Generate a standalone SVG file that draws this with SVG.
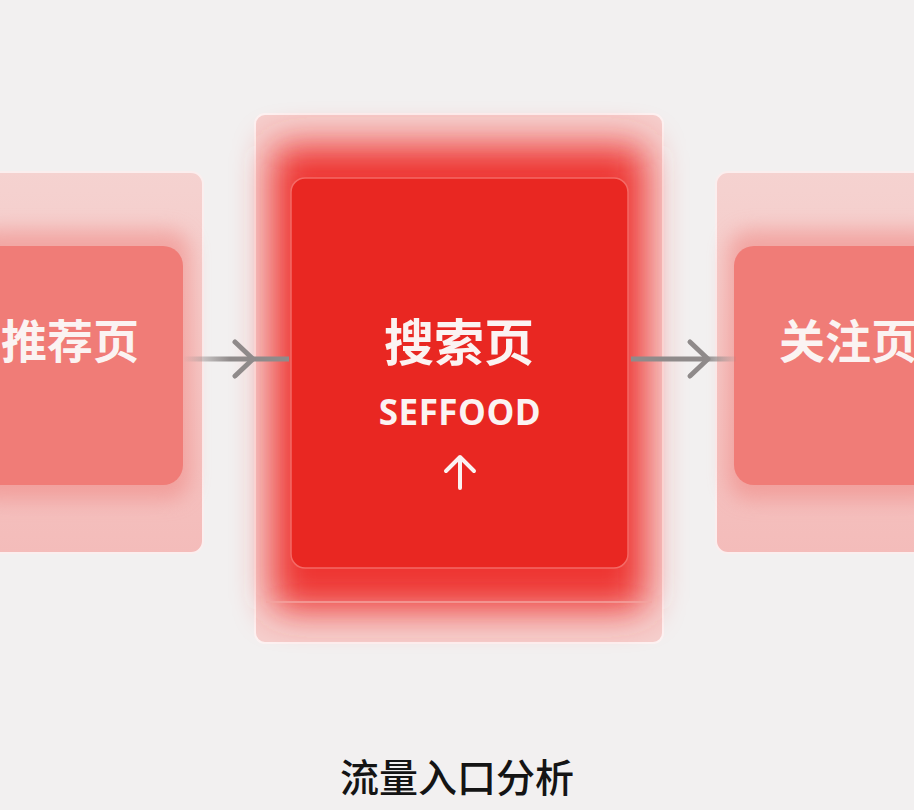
<svg xmlns="http://www.w3.org/2000/svg" width="914" height="810" viewBox="0 0 914 810">
<style>
.lbl{font-family:"Noto Sans CJK SC","Noto Sans",sans-serif;font-weight:700;fill:#fbf3f2;text-anchor:middle}
.latin{font-family:"Open Sans","Noto Sans",sans-serif;font-weight:700;fill:#fbf3f2;text-anchor:middle}
.title{font-family:"Noto Sans CJK SC","Noto Sans",sans-serif;font-weight:500;fill:#141414;text-anchor:middle}
.conn{stroke:#8f8a8a;stroke-width:5;fill:none;stroke-linecap:round;stroke-linejoin:round}
</style>
<defs>
<filter id="blur" x="-30%" y="-30%" width="160%" height="160%"><feGaussianBlur stdDeviation="18"/></filter>
<filter id="blur2" x="-30%" y="-30%" width="160%" height="160%"><feGaussianBlur stdDeviation="10"/></filter>
<linearGradient id="sideOuter" x1="0" y1="0" x2="0" y2="1">
<stop offset="0" stop-color="#f5d2d0"/><stop offset="1" stop-color="#f4bcba"/>
</linearGradient>
<linearGradient id="lineFadeL" gradientUnits="userSpaceOnUse" x1="183" y1="0" x2="230" y2="0">
<stop offset="0" stop-color="#8f8a8a" stop-opacity="0"/><stop offset="1" stop-color="#8f8a8a" stop-opacity="1"/>
</linearGradient>
<linearGradient id="lineFadeR" gradientUnits="userSpaceOnUse" x1="705" y1="0" x2="736" y2="0">
<stop offset="0" stop-color="#8f8a8a" stop-opacity="1"/><stop offset="1" stop-color="#8f8a8a" stop-opacity="0.1"/>
</linearGradient>
</defs>
<rect width="914" height="810" fill="#f2f0f0"/>

<g id="node-left">
<rect x="-20" y="172" width="223" height="381" rx="12" fill="url(#sideOuter)" stroke="#fbeeee" stroke-width="2"/>
<rect x="-30" y="230" width="220" height="270" rx="22" fill="#f08a86" opacity="0.6" filter="url(#blur2)"/>
<rect x="-30" y="246" width="213" height="239" rx="20" fill="#f07c77"/>
<text class="lbl" x="70" y="358" font-size="46">推荐页</text>
</g>

<g id="node-right">
<rect x="716" y="172" width="223" height="381" rx="12" fill="url(#sideOuter)" stroke="#fbeeee" stroke-width="2"/>
<rect x="728" y="230" width="220" height="270" rx="22" fill="#f08a86" opacity="0.6" filter="url(#blur2)"/>
<rect x="734" y="246" width="213" height="239" rx="20" fill="#f07c77"/>
<text class="lbl" x="848" y="358" font-size="46">关注页</text>
</g>

<g id="node-center">
<rect x="255" y="114" width="408" height="529" rx="10" fill="#f5cfcd" stroke="#fdf3f3" stroke-width="2"/>
<rect x="272" y="145" width="374" height="465" rx="14" fill="#ee3430" filter="url(#blur)"/>
<line x1="266" y1="602" x2="652" y2="602" stroke="#f3a4a1" stroke-width="1.5"/>
<rect x="291" y="178" width="337" height="390" rx="14" fill="#e92722" stroke="#f46a66" stroke-width="1.5"/>
<text class="lbl" x="459" y="361" font-size="50">搜索页</text>
<text class="latin" x="460" y="425" font-size="35" letter-spacing="0.5">SEFFOOD</text>
<path d="M460,488 V457 M446,471 L460,457 L474,471" stroke="#fbf3f2" stroke-width="4" fill="none" stroke-linecap="round" stroke-linejoin="round"/>
</g>

<g id="connectors">
<line x1="183" y1="359" x2="289" y2="359" stroke="url(#lineFadeL)" stroke-width="5"/>
<polyline class="conn" points="235,342 253,359 235,376"/>
<line x1="631" y1="359" x2="736" y2="359" stroke="url(#lineFadeR)" stroke-width="5"/>
<polyline class="conn" points="690,342 708,359 690,376"/>
</g>

<text class="title" x="457" y="792" font-size="39">流量入口分析</text>
</svg>
